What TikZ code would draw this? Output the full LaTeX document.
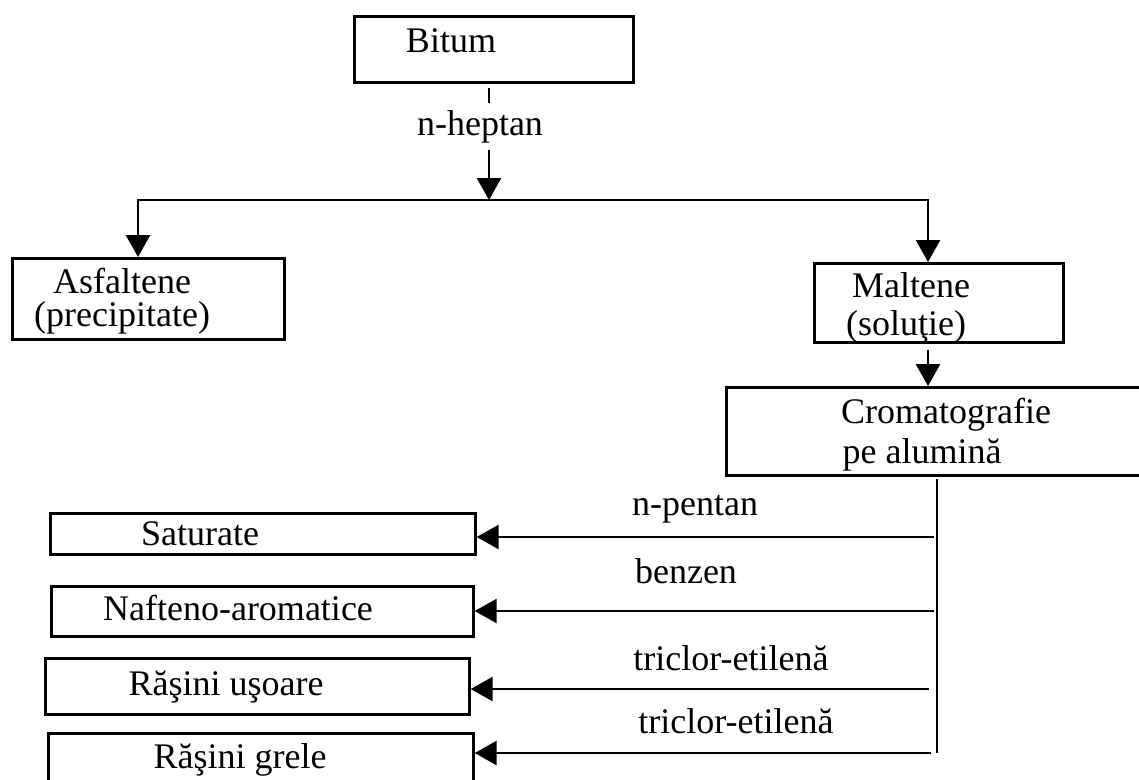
\documentclass[tikz,border=0pt]{standalone}
\usepackage{fontspec}
\setmainfont{Liberation Serif}
\usetikzlibrary{arrows.meta}

\tikzset{
  box/.style={draw, line width=2.7pt, inner sep=0pt, anchor=north west},
  lbl/.style={font=\fontsize{36}{43}\selectfont, inner sep=0pt, anchor=base},
  conn/.style={line width=2.7pt},
  arrow/.style={line width=2.7pt, -{Triangle[length=22pt,width=24pt]}},
}

\begin{document}
\begin{tikzpicture}[x=1pt, y=-1pt]
  \useasboundingbox (0,0) rectangle (1139,779);
  \clip (0,0) rectangle (1139,779);

  % boxes
  \node[box, minimum width=279pt, minimum height=66pt] (bitum) at (353,15) {};
  \node[box, minimum width=272pt, minimum height=81pt] (asf)   at (11,257) {};
  \node[box, minimum width=249pt, minimum height=79pt] (malt)  at (813,262) {};
  \node[box, minimum width=435pt, minimum height=88pt] (crom)  at (725,386) {};
  \node[box, minimum width=425pt, minimum height=41pt] (sat)   at (49,512) {};
  \node[box, minimum width=422pt, minimum height=50pt] (naft)  at (50,585) {};
  \node[box, minimum width=424pt, minimum height=56pt] (rus)   at (44,657) {};
  \node[box, minimum width=425pt, minimum height=68pt] (rgr)   at (47,732) {};

  % box texts
  \node[lbl] (tbitum) at (451,52)  {Bitum};
  \node[lbl] (tasf1)  at (122,293) {Asfaltene};
  \node[lbl] (tasf2)  at (122,326) {(precipitate)};
  \node[lbl] (tmalt1) at (911,297) {Maltene};
  \node[lbl] (tmalt2) at (906,335) {(soluţie)};
  \node[lbl] (tcrom1) at (946,423) {Cromatografie};
  \node[lbl] (tcrom2) at (922,463) {pe alumină};
  \node[lbl] (tsat)   at (200,545) {Saturate};
  \node[lbl] (tnaft)  at (238,620) {Nafteno-aromatice};
  \node[lbl] (trus)   at (226,695) {Răşini uşoare};
  \node[lbl] (trgr)   at (240,768) {Răşini grele};

  % solvent labels
  \node[lbl] (heptan) at (480,135) {n-heptan};
  \node[lbl] (pentan) at (695,515) {n-pentan};
  \node[lbl] (benzen) at (686,583) {benzen};
  \node[lbl] (tce1)   at (731,670) {triclor-etilenă};
  \node[lbl] (tce2)   at (736,733) {triclor-etilenă};

  % branch points
  \coordinate (split) at (489,200);
  \coordinate (lc) at (138,200);
  \coordinate (rc) at (928,200);
  \coordinate (vtop) at (937,479);
  \coordinate (vbot) at (937,753);
  \coordinate (e1) at (934,537);
  \coordinate (e2) at (934,611);
  \coordinate (e3) at (929,689);
  \coordinate (e4) at (931,753);

  % separation with n-heptane
  \draw[conn] ([yshift=-4pt]bitum.south -| split) -- ++(0,15);
  \draw[arrow] ([yshift=-7pt]heptan.south -| split) -- (split);
  \draw[arrow] (split) -| (lc |- asf.north);
  \draw[arrow] (split) -| (rc |- malt.north);

  % maltenes to chromatography
  \draw[arrow] ([yshift=-6pt]malt.south -| rc) -- (crom.north -| rc);

  % elution trunk and fractions
  \draw[conn] (vtop) -- (vbot);
  \draw[arrow] (e1) -- (e1 -| sat.east);
  \draw[arrow] (e2) -- (e2 -| naft.east);
  \draw[arrow] (e3) -- (e3 -| rus.east);
  \draw[arrow] (e4) -- (e4 -| rgr.east);
\end{tikzpicture}
\end{document}
